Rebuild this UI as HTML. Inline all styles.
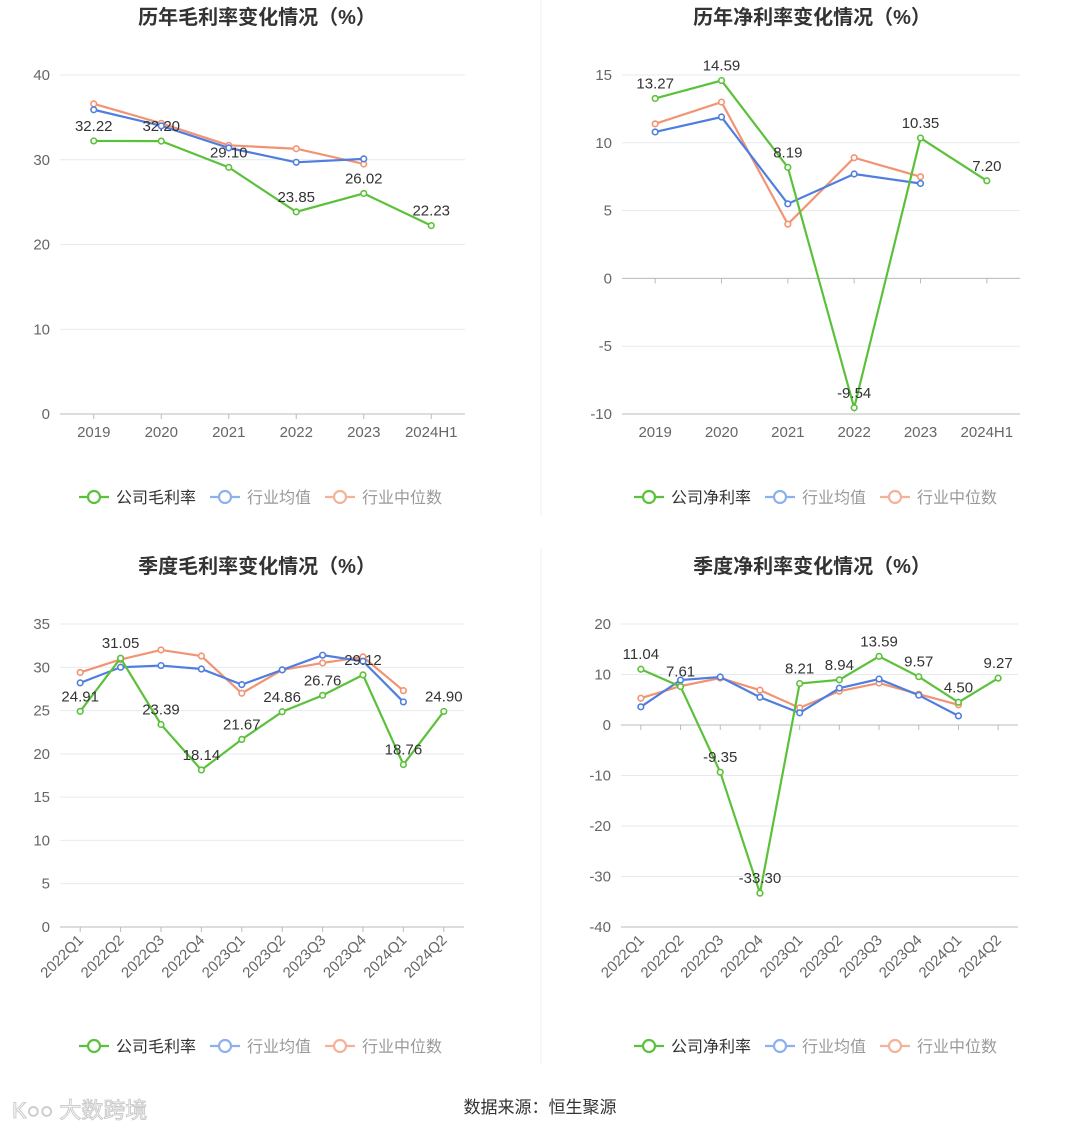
<!DOCTYPE html>
<html><head><meta charset="utf-8">
<style>
html,body{margin:0;padding:0;background:#fff;}
body{width:1080px;height:1131px;overflow:hidden;font-family:"Liberation Sans","Noto Sans CJK SC",sans-serif;}
svg text{font-family:"Liberation Sans","Noto Sans CJK SC",sans-serif;}
</style></head>
<body>
<svg id="root" width="1080" height="1131" xmlns="http://www.w3.org/2000/svg">
<line x1="541" y1="0" x2="541" y2="515" stroke="#f2f2f2"/>
<line x1="541" y1="548" x2="541" y2="1065" stroke="#f2f2f2"/>
<text x="540" y="1113" text-anchor="middle" font-size="17" fill="#333">数据来源：恒生聚源</text>
<text x="12" y="1118" font-size="22" fill="#fff" stroke="#ccc" stroke-width="1">K○○ 大数跨境</text>
</svg>
<script>
const yearCats=["2019","2020","2021","2022","2023","2024H1"];
const quarterCats=["2022Q1","2022Q2","2022Q3","2022Q4","2023Q1","2023Q2","2023Q3","2023Q4","2024Q1","2024Q2"];
const grossCompany=[32.22,32.20,29.10,23.85,26.02,22.23];
const grossAvg=[35.9,34.0,31.4,29.7,30.1];
const grossMedian=[36.6,34.3,31.7,31.3,29.5];
const netCompany=[13.27,14.59,8.19,-9.54,10.35,7.20];
const netAvg=[10.8,11.9,5.5,7.7,7.0];
const netMedian=[11.4,13.0,4.0,8.9,7.5];
const qGrossCompany=[24.91,31.05,23.39,18.14,21.67,24.86,26.76,29.12,18.76,24.90];
const qGrossAvg=[28.2,30.0,30.2,29.8,28.0,29.7,31.4,30.7,26.0];
const qGrossMedian=[29.4,30.9,32.0,31.3,27.0,29.7,30.5,31.2,27.3];
const qNetCompany=[11.04,7.61,-9.35,-33.30,8.21,8.94,13.59,9.57,4.50,9.27];
const qNetAvg=[3.6,8.9,9.5,5.5,2.4,7.3,9.1,5.9,1.8];
const qNetMedian=[5.3,7.7,9.3,6.9,3.4,6.7,8.3,6.1,4.0];
const grossTicks=[0,10,20,30,40];
const netTicks=[-10,-5,0,5,10,15];
const qGrossTicks=[0,5,10,15,20,25,30,35];
const qNetTicks=[-40,-30,-20,-10,0,10,20];

const NS="http://www.w3.org/2000/svg";
const root=document.getElementById('root');
function mk(tag,attrs,parent){const e=document.createElementNS(NS,tag);for(const k in attrs)e.setAttribute(k,attrs[k]);(parent||root).appendChild(e);return e;}
const GREEN="#5cc13a",BLUE="#4f7ee0",ORANGE="#f29473";

function chart(o){
  const g=mk('g',{});
  
  
  const t=mk('text',{x:o.cx,y:o.titleY,'text-anchor':'middle','font-size':20,'font-weight':'bold',fill:'#333'},g);
  t.textContent=o.title;
  
  
  const min=o.ticks[0],max=o.ticks[o.ticks.length-1];
  const y=v=>o.y0-(v-min)/(max-min)*(o.y0-o.y1);
  const n=o.cats.length,step=(o.x1-o.x0)/n;
  const x=i=>o.x0+step*(i+0.5);
  o.ticks.forEach(tv=>{
    const l=mk('line',{x1:o.x0,x2:o.x1,y1:y(tv),y2:y(tv),stroke:tv===min?'#bbb':'#e6e9f0'},g);
    
    
    const tx=mk('text',{x:o.x0-10,y:y(tv)+5,'text-anchor':'end','font-size':15,fill:'#666'},g);
    tx.textContent=tv;
    
    
  });
  if(o.zeroLine){const l=mk('line',{x1:o.x0,x2:o.x1,y1:y(0),y2:y(0),stroke:'#bbb'},g);
    
    }
  o.cats.forEach((c,i)=>{
    const ax=o.zeroLine?y(0):o.y0;
    const tk=mk('line',{x1:x(i),x2:x(i),y1:ax,y2:ax+5,stroke:'#bbb'},g);
    
    
    let tx;
    if(o.rotate){tx=mk('text',{x:x(i)+4,y:o.y0+14,'text-anchor':'end','font-size':15,fill:'#666',transform:`rotate(-45 ${x(i)+4} ${o.y0+14})`},g);}
    else tx=mk('text',{x:x(i),y:o.y0+23,'text-anchor':'middle','font-size':15,fill:'#666'},g);
    tx.textContent=c;
    
    
  });
  const series=[[o.median,ORANGE,'industry-median-line'],[o.avg,BLUE,'industry-average-line'],[o.company,GREEN,'company-line']];
  series.forEach(([vals,col,nm])=>{
    const p=mk('polyline',{points:vals.map((v,i)=>x(i)+','+y(v)).join(' '),fill:'none',stroke:col,'stroke-width':2.2},g);
    
    
    vals.forEach((v,i)=>{
      const c=mk('circle',{cx:x(i),cy:y(v),r:2.8,fill:'#fff',stroke:col,'stroke-width':1.6},g);
      
      
    });
  });
  o.company.forEach((v,i)=>{
    const lb=mk('text',{x:x(i),y:y(v)-10,'text-anchor':'middle','font-size':15,fill:'#333'},g);
    lb.textContent=v.toFixed(2);
    
    
  });
  // legend
  const items=[[o.legend,GREEN,'#333'],['行业均值','#8fb0ef','#999'],['行业中位数','#f5b29a','#999']];
  let lx=o.cx-o.legW/2;
  items.forEach(([txt,col,tc])=>{
    const lg=mk('g',{},g);
    
    
    mk('line',{x1:lx,x2:lx+30,y1:o.legY,y2:o.legY,stroke:col,'stroke-width':2.2},lg);
    mk('circle',{cx:lx+15,cy:o.legY,r:6,fill:'#fff',stroke:col,'stroke-width':2.2},lg);
    const tt=mk('text',{x:lx+37,y:o.legY+6,'font-size':16,fill:tc},lg);
    tt.textContent=txt;
    lx+=37+txt.length*16+14;
  });
}
chart({name:'annual-gross-margin-chart',title:'历年毛利率变化情况（%）',cx:257,titleY:24,x0:60,x1:465,y0:414,y1:75,ticks:grossTicks,cats:yearCats,company:grossCompany,avg:grossAvg,median:grossMedian,legend:'公司毛利率',legY:497,legW:356});
chart({name:'annual-net-margin-chart',title:'历年净利率变化情况（%）',cx:812,titleY:24,x0:622,x1:1020,y0:414,y1:75,ticks:netTicks,cats:yearCats,company:netCompany,avg:netAvg,median:netMedian,legend:'公司净利率',legY:497,legW:356,zeroLine:true});
chart({name:'quarterly-gross-margin-chart',title:'季度毛利率变化情况（%）',cx:257,titleY:573,x0:60,x1:464,y0:927,y1:624,ticks:qGrossTicks,cats:quarterCats,company:qGrossCompany,avg:qGrossAvg,median:qGrossMedian,legend:'公司毛利率',legY:1046,legW:356,rotate:true});
chart({name:'quarterly-net-margin-chart',title:'季度净利率变化情况（%）',cx:812,titleY:573,x0:621,x1:1018,y0:927,y1:624,ticks:qNetTicks,cats:quarterCats,company:qNetCompany,avg:qNetAvg,median:qNetMedian,legend:'公司净利率',legY:1046,legW:356,rotate:true,zeroLine:true});
</script>
</body></html>
